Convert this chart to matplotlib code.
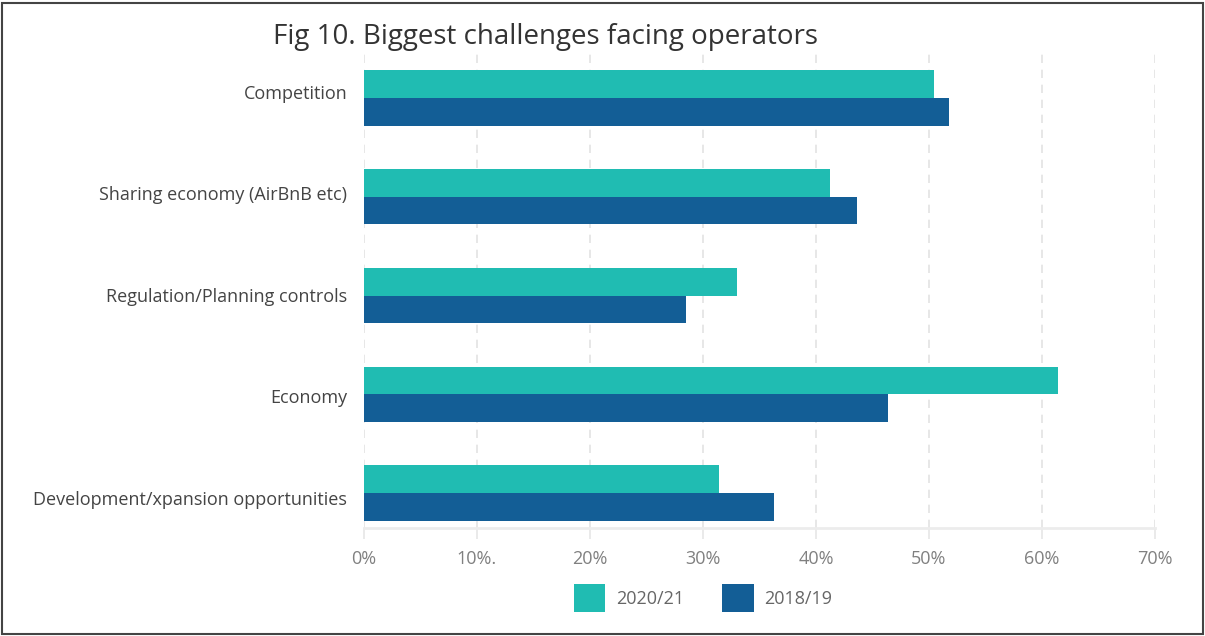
import matplotlib.pyplot as plt
import numpy as np
from matplotlib.patches import Rectangle

plt.rcParams['font.family'] = ['Open Sans', 'DejaVu Sans']

categories = ["Competition", "Sharing economy (AirBnB etc)", "Regulation/Planning controls",
              "Economy", "Development/xpansion opportunities"]
share_2020 = [50.4, 41.2, 33.0, 61.4, 31.4]
share_2018 = [51.8, 43.6, 28.5, 46.4, 36.3]
xticks = [0, 10, 20, 30, 40, 50, 60, 70]
xtick_labels = ["0%", "10%.", "20%", "30%", "40%", "50%", "60%", "70%"]

teal = "#20bcb2"
blue = "#135e96"

fig = plt.figure(figsize=(12.05, 6.36), dpi=100)
ax = fig.add_axes([364 / 1205, 1 - 528 / 636, (1155 - 364) / 1205, (528 - 48.6) / 636])

y = np.arange(len(categories))
h = 0.28
ax.barh(y - h / 2, share_2020, height=h, color=teal, label="2020/21", zorder=3)
ax.barh(y + h / 2, share_2018, height=h, color=blue, label="2018/19", zorder=3)

ax.set_xlim(0, 70)
ax.set_ylim(4.354, -0.5)
# category labels sit on a slightly wider spacing than the bar groups
ax.set_yticks(y * 1.027 - 0.06)
ax.set_yticklabels(categories, fontsize=13, color="#444444")
ax.set_xticks(xticks)
ax.set_xticklabels(xtick_labels, fontsize=13, color="#808080")
ax.tick_params(axis="y", length=0, pad=12)
ax.tick_params(axis="x", length=8, width=1.2, color="#e6e6e6", pad=8)

ax.grid(axis="x", color="#e3e3e3", linestyle=(0, (5, 4)), linewidth=1.2, zorder=0)
for side in ["top", "right", "left"]:
    ax.spines[side].set_visible(False)
ax.spines["bottom"].set_color("#ececec")
ax.spines["bottom"].set_linewidth(2)

fig.text(273 / 1205, 1 - 37 / 636, "Fig 10. Biggest challenges facing operators",
         fontsize=20, color="#333333", va="center", ha="left")

ax.legend(loc="center", bbox_to_anchor=(703 / 1205, 1 - 598 / 636),
          bbox_transform=fig.transFigure, ncol=2, frameon=False,
          fontsize=13, labelcolor="#666666", handlelength=1.75, handleheight=2.0,
          columnspacing=2.1, handletextpad=0.6)

# frame around the whole figure
fig.patches.append(Rectangle((0.002, 0.003), 0.996, 0.993, transform=fig.transFigure,
                             fill=False, edgecolor="#444444", linewidth=1.5))

fig.savefig("out.png", dpi=100)
